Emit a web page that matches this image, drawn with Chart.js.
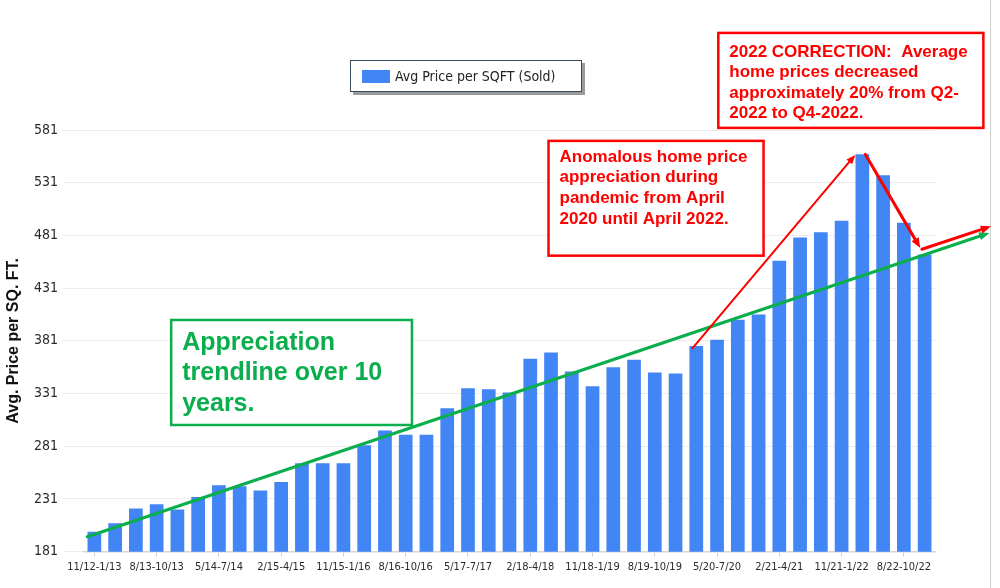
<!DOCTYPE html>
<html>
<head>
<meta charset="utf-8">
<title>Avg Price per SQFT (Sold)</title>
<script src="https://cdn.jsdelivr.net/npm/chart.js@4.4.1/dist/chart.umd.min.js"></script>
<style>
    html, body { margin: 0; padding: 0; background: #ffffff; }
    #wrap { position: relative; width: 1000px; height: 588px; }
</style>
</head>
<body>
<div id="wrap"><canvas id="chart"></canvas></div>
<script>
// 3-month sale windows, one per quarter
const periods = [
    '11/12-1/13', '2/13-4/13', '5/13-7/13', '8/13-10/13',
    '11/13-1/14', '2/14-4/14', '5/14-7/14', '8/14-10/14',
    '11/14-1/15', '2/15-4/15', '5/15-7/15', '8/15-10/15',
    '11/15-1/16', '2/16-4/16', '5/16-7/16', '8/16-10/16',
    '11/16-1/17', '2/17-4/17', '5/17-7/17', '8/17-10/17',
    '11/17-1/18', '2/18-4/18', '5/18-7/18', '8/18-10/18',
    '11/18-1/19', '2/19-4/19', '5/19-7/19', '8/19-10/19',
    '11/19-1/20', '2/20-4/20', '5/20-7/20', '8/20-10/20',
    '11/20-1/21', '2/21-4/21', '5/21-7/21', '8/21-10/21',
    '11/21-1/22', '2/22-4/22', '5/22-7/22', '8/22-10/22',
    '11/22-1/23'
];

// Avg price per sq ft (sold)
const avgPricePerSqft = [
    200, 208, 222, 226, 221, 233, 244, 243, 239, 247,
    265, 265, 265, 282, 296, 292, 292, 317, 336, 335,
    332, 364, 370, 352, 338, 356, 363, 351, 350, 376,
    382, 401, 406, 457, 479, 484, 495, 558, 538, 493,
    463
];

const yTicks = [181, 231, 281, 331, 381, 431, 481, 531, 581];

const seriesLabel = 'Avg Price per SQFT (Sold)';
const yTitle = 'Avg. Price per SQ. FT.';
const LABEL_EVERY = 3;

const greenText = ['Appreciation', 'trendline over 10', 'years.'];
const pandemicText = ['Anomalous home price', 'appreciation during', 'pandemic from April', '2020 until April 2022.'];
const correctionText = ['2022 CORRECTION:  Average', 'home prices decreased', 'approximately 20% from Q2-', '2022 to Q4-2022.'];

const BLUE = '#4285f4';
const GREEN = '#0aae4c';
const RED = '#ff0000';
const NARROW = "'Liberation Sans Narrow', 'DejaVu Sans Condensed', 'Roboto', sans-serif";
const SANS = "'Liberation Sans', Arial, sans-serif";

/**
 * Draws a straight arrow with a filled head at (x2, y2)
 */
function arrow(ctx, x1, y1, x2, y2, color, width, head) {
    const a = Math.atan2(y2 - y1, x2 - x1);
    ctx.save();
    ctx.strokeStyle = color;
    ctx.fillStyle = color;
    ctx.lineWidth = width;
    ctx.lineCap = 'round';
    ctx.beginPath();
    ctx.moveTo(x1, y1);
    ctx.lineTo(x2 - Math.cos(a) * head * 0.6, y2 - Math.sin(a) * head * 0.6);
    ctx.stroke();
    ctx.beginPath();
    ctx.moveTo(x2, y2);
    ctx.lineTo(x2 - head * Math.cos(a - 0.38), y2 - head * Math.sin(a - 0.38));
    ctx.lineTo(x2 - head * Math.cos(a + 0.38), y2 - head * Math.sin(a + 0.38));
    ctx.closePath();
    ctx.fill();
    ctx.restore();
}

/**
 * Text box with a coloured border, corners given in data units
 */
function noteBox(ctx, px, py, box, lines, color, font, firstLine, lineGap) {
    const x1 = px(box.x1), x2 = px(box.x2);
    const y1 = py(box.y1), y2 = py(box.y2);
    ctx.save();
    ctx.fillStyle = '#ffffff';
    ctx.fillRect(x1, y1, x2 - x1, y2 - y1);
    ctx.strokeStyle = color;
    ctx.lineWidth = 2.5;
    ctx.strokeRect(x1, y1, x2 - x1, y2 - y1);
    ctx.fillStyle = color;
    ctx.font = font;
    ctx.textBaseline = 'middle';
    ctx.textAlign = 'left';
    lines.forEach((t, i) => ctx.fillText(t, x1 + 11, y1 + firstLine + i * lineGap));
    ctx.restore();
}

// annotation overlay: legend frame, trendline, arrows and notes
const overlay = {
    id: 'overlay',
    beforeDraw(chart) {
        const ctx = chart.ctx;
        ctx.save();
        ctx.fillStyle = '#ffffff';
        ctx.fillRect(0, 0, chart.width, chart.height);
        ctx.strokeStyle = '#cfcfcf';
        ctx.lineWidth = 1;
        ctx.beginPath();
        ctx.moveTo(990.5, 0);
        ctx.lineTo(990.5, chart.height);
        ctx.stroke();
        ctx.restore();
    },
    afterDraw(chart) {
        const ctx = chart.ctx;
        const xs = chart.scales.x, ys = chart.scales.y;
        const px = v => xs.getPixelForValue(v);
        const py = v => ys.getPixelForValue(v);

        // legend
        ctx.save();
        ctx.fillStyle = '#9a9a9a';
        ctx.fillRect(353, 63, 232, 32);
        ctx.fillStyle = '#ffffff';
        ctx.fillRect(350.5, 60.5, 231, 31);
        ctx.strokeStyle = '#3c4a5a';
        ctx.lineWidth = 1;
        ctx.strokeRect(350.5, 60.5, 231, 31);
        ctx.fillStyle = BLUE;
        ctx.fillRect(362, 70, 28, 13);
        ctx.fillStyle = '#222222';
        ctx.font = '14px ' + NARROW;
        ctx.textBaseline = 'middle';
        ctx.fillText(seriesLabel, 395, 77);
        ctx.restore();

        // green appreciation trendline
        arrow(ctx, px(-0.34), py(195.2), px(43.12), py(483.4), GREEN, 3.2, 11);

        // red arrows: pandemic run-up, 2022 correction, back to trend
        arrow(ctx, px(28.82), py(374), px(36.66), py(557.4), RED, 2, 10);
        arrow(ctx, px(37.14), py(558), px(39.79), py(469), RED, 3, 11);
        arrow(ctx, px(39.87), py(467.9), px(43.2), py(489.6), RED, 3, 11);

        noteBox(ctx, px, py, { x1: 3.70, x2: 15.30, y1: 400.8, y2: 301.2 },
            greenText, GREEN, 'bold 25px ' + SANS, 23, 30.6);
        noteBox(ctx, px, py, { x1: 21.88, x2: 32.24, y1: 570.7, y2: 461.8 },
            pandemicText, RED, 'bold 17px ' + SANS, 16, 20.8);
        noteBox(ctx, px, py, { x1: 30.06, x2: 42.83, y1: 673.1, y2: 583.0 },
            correctionText, RED, 'bold 17px ' + SANS, 19, 20.5);
    }
};

const ctx = document.getElementById('chart').getContext('2d');

new Chart(ctx, {
    type: 'bar',
    data: {
        labels: periods,
        datasets: [
            {
                label: seriesLabel,
                data: avgPricePerSqft,
                backgroundColor: BLUE,
                borderWidth: 0,
                barPercentage: 0.66,
                categoryPercentage: 1.0
            }
        ]
    },
    options: {
        responsive: true,
        maintainAspectRatio: false,
        animation: false,
        layout: {
            padding: { top: 130, right: 65, bottom: 0, left: 0 }
        },
        plugins: {
            legend: { display: false },
            tooltip: { enabled: false }
        },
        scales: {
            x: {
                afterFit: (scale) => { scale.height = 36.3; },
                border: { display: true, color: '#d6d6d6', width: 1.5 },
                grid: {
                    offset: false,
                    drawOnChartArea: false,
                    tickLength: 5,
                    color: (c) => (c.index % LABEL_EVERY === 0 ? '#d0d0d0' : 'rgba(0,0,0,0)')
                },
                ticks: {
                    autoSkip: false,
                    maxRotation: 0,
                    minRotation: 0,
                    padding: 4,
                    color: '#2b2b2b',
                    font: { family: NARROW, size: 11 },
                    callback: (value, index) => (index % LABEL_EVERY === 0 ? periods[index] : '')
                }
            },
            y: {
                min: 181,
                max: 581,
                afterFit: (scale) => { scale.width = 84; },
                afterBuildTicks: (scale) => { scale.ticks = yTicks.map(v => ({ value: v })); },
                border: { display: false },
                grid: {
                    color: '#ececec',
                    lineWidth: 1,
                    tickLength: 21
                },
                ticks: {
                    padding: 5,
                    color: '#2b2b2b',
                    font: { family: NARROW, size: 14 }
                },
                title: {
                    display: true,
                    text: yTitle,
                    color: '#111111',
                    padding: { top: 4, bottom: 4 },
                    font: { family: SANS, size: 16, weight: 'bold' }
                }
            }
        }
    },
    plugins: [overlay]
});
</script>
</body>
</html>
